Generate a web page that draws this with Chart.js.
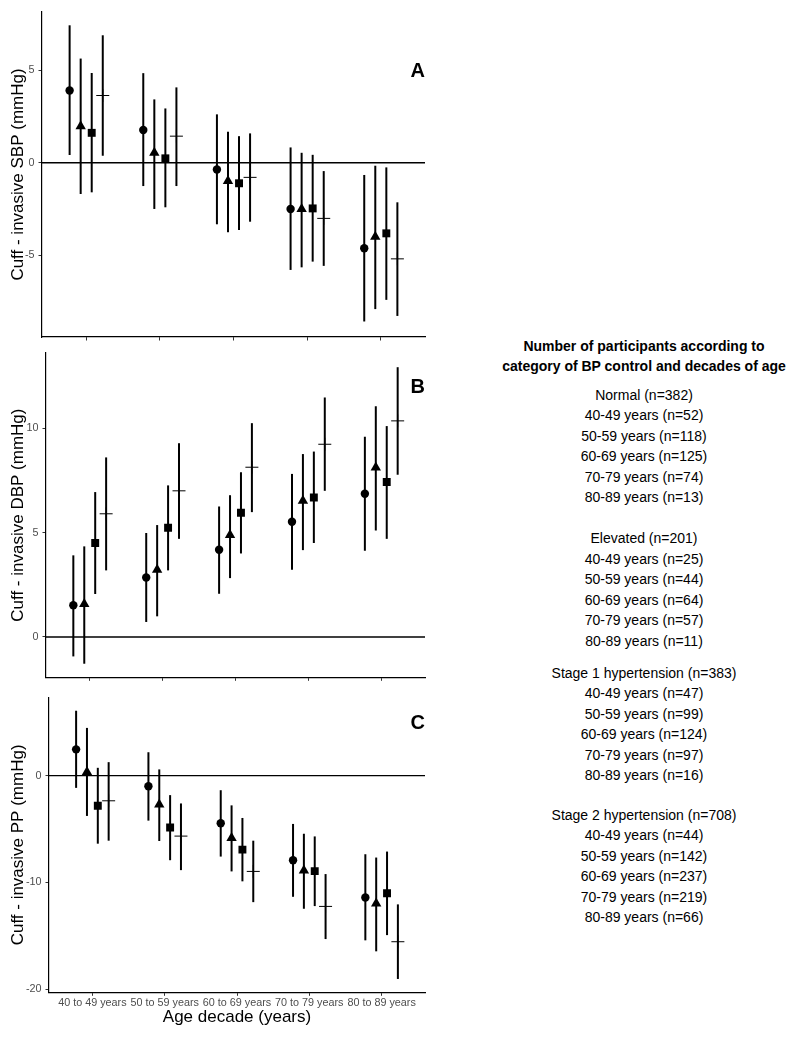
<!DOCTYPE html>
<html>
<head>
<meta charset="utf-8">
<script src="https://cdn.jsdelivr.net/npm/chart.js@4/dist/chart.umd.min.js"></script>
<style>
  body { margin: 0; background: #fff; font-family: 'Liberation Sans', Arial, sans-serif; }
  #page { position: relative; width: 800px; height: 1037px; }
  .panel { position: absolute; left: 0; width: 440px; }
  .counts { position: absolute; left: 488px; width: 312px; text-align: center; font-size: 14px; line-height: 20.5px; color: #000; }
  .counts.title { font-weight: bold; line-height: 20px; }
</style>
</head>
<body>
<div id="page">
  <div class="panel" style="top:0;height:345px"><canvas id="sbpChart"></canvas></div>
  <div class="panel" style="top:345px;height:345px"><canvas id="dbpChart"></canvas></div>
  <div class="panel" style="top:690px;height:347px"><canvas id="ppChart"></canvas></div>
  <div class="counts title" style="top:336px">Number of participants according to<br>category of BP control and decades of age</div>
</div>
<script>
const ageGroups = ['40 to 49 years', '50 to 59 years', '60 to 69 years', '70 to 79 years', '80 to 89 years'];
const ageShort = ['40-49', '50-59', '60-69', '70-79', '80-89'];
const bpCategories = ['Normal', 'Elevated', 'Stage 1 hypertension', 'Stage 2 hypertension'];

// participants per age decade, one array per BP category
const normalN = [52, 118, 125, 74, 13];
const elevatedN = [25, 44, 64, 57, 11];
const stage1N = [47, 99, 124, 97, 16];
const stage2N = [44, 142, 237, 219, 66];

// rows: Normal, Elevated, Stage 1, Stage 2 -- columns: age decades
const sbpMean = [
    [3.91, 1.77, -0.36, -2.50, -4.63],
    [1.98, 0.54, -0.99, -2.50, -4.00],
    [1.62, 0.24, -1.11, -2.47, -3.82],
    [3.64, 1.44, -0.79, -3.01, -5.20]
];
const sbpLow = [
    [0.42, -1.26, -3.33, -5.80, -8.59],
    [-1.69, -2.50, -3.76, -5.66, -7.92],
    [-1.60, -2.41, -3.64, -5.35, -7.42],
    [0.38, -1.26, -3.19, -5.58, -8.29]
];
const sbpHigh = [
    [7.44, 4.85, 2.62, 0.83, -0.66],
    [5.64, 3.43, 1.68, 0.54, -0.16],
    [4.86, 2.94, 1.44, 0.43, -0.25],
    [6.90, 4.08, 1.59, -0.45, -2.14]
];

const dbpMean = [
    [1.52, 2.85, 4.18, 5.52, 6.86],
    [1.58, 3.22, 4.88, 6.52, 8.12],
    [4.50, 5.23, 5.95, 6.68, 7.42],
    [5.90, 7.00, 8.13, 9.23, 10.35]
];
const dbpLow = [
    [-0.93, 0.72, 2.07, 3.22, 4.13],
    [-1.28, 0.99, 2.82, 4.16, 5.10],
    [2.06, 3.19, 4.00, 4.50, 4.70],
    [3.19, 4.70, 5.98, 7.00, 7.77]
];
const dbpHigh = [
    [3.91, 4.98, 6.25, 7.81, 9.59],
    [4.34, 5.36, 6.79, 8.76, 11.05],
    [6.94, 7.26, 7.89, 8.88, 10.10],
    [8.60, 9.28, 10.24, 11.47, 12.92]
];

const ppMean = [
    [2.47, -0.99, -4.45, -7.92, -11.41],
    [0.34, -2.69, -5.85, -8.88, -11.97],
    [-2.81, -4.86, -6.93, -8.94, -11.01],
    [-2.35, -5.66, -8.97, -12.25, -15.56]
];
const ppLow = [
    [-1.14, -4.21, -7.58, -11.35, -15.43],
    [-3.77, -6.12, -8.97, -12.47, -16.46],
    [-6.37, -7.92, -9.90, -12.22, -14.94],
    [-6.09, -8.85, -11.85, -15.31, -19.05]
];
const ppHigh = [
    [6.09, 2.20, -1.36, -4.52, -7.36],
    [4.48, 0.59, -2.78, -5.44, -7.67],
    [0.74, -1.82, -3.96, -5.69, -7.11],
    [1.27, -2.60, -6.09, -9.22, -12.06]
];

const sbpTicks = [-5, 0, 5];
const dbpTicks = [0, 5, 10];
const ppTicks = [-20, -10, 0];

Chart.defaults.font.family = "'Liberation Sans', Arial, sans-serif";
Chart.defaults.animation = false;

const dodge = [-0.225, -0.075, 0.075, 0.225];
const shapes = [
    { style: 'circle', radius: 4.2, border: 0 },
    { style: 'triangle', radius: 6, border: 0 },
    { style: 'rect', radius: 5.6, border: 0 },
    { style: 'cross', radius: 6.5, border: 1 }
];

// vertical interval lines, drawn under the markers
function errorBars(low, high) {
    return {
        id: 'errorBars',
        beforeDatasetsDraw(chart) {
            const { ctx, scales: { x, y } } = chart;
            ctx.save();
            ctx.strokeStyle = '#000';
            ctx.lineWidth = 2;
            low.forEach((row, k) => row.forEach((lo, i) => {
                const px = x.getPixelForValue(i + 1 + dodge[k]);
                ctx.beginPath();
                ctx.moveTo(px, y.getPixelForValue(lo));
                ctx.lineTo(px, y.getPixelForValue(high[k][i]));
                ctx.stroke();
            }));
            ctx.restore();
        }
    };
}

function panelLetter(letter, yVal) {
    return {
        id: 'panelLetter',
        afterDatasetsDraw(chart) {
            const { ctx, scales: { x, y } } = chart;
            ctx.save();
            ctx.font = "bold 20px 'Liberation Sans', Arial, sans-serif";
            ctx.fillStyle = '#000';
            ctx.textAlign = 'center';
            ctx.textBaseline = 'middle';
            ctx.fillText(letter, x.getPixelForValue(5.5), y.getPixelForValue(yVal) + 1.5);
            ctx.restore();
        }
    };
}

function makePanel(id, p) {
    const datasets = bpCategories.map((cat, k) => ({
        label: cat,
        data: ageGroups.map((g, i) => ({ x: i + 1 + dodge[k], y: p.mean[k][i] })),
        pointStyle: shapes[k].style,
        pointRadius: shapes[k].radius,
        borderWidth: shapes[k].border,
        backgroundColor: '#000',
        borderColor: '#000'
    }));
    // reference line at zero
    datasets.unshift({
        label: 'zero',
        data: [{ x: 0.4, y: 0 }, { x: 5.6, y: 0 }],
        showLine: true,
        pointRadius: 0,
        borderColor: '#000',
        borderWidth: 1.3
    });

    return new Chart(document.getElementById(id), {
        type: 'scatter',
        data: { datasets: datasets },
        options: {
            responsive: true, maintainAspectRatio: false, events: [],
            layout: { padding: { top: p.top, right: 15, left: 0, bottom: 0 } },
            plugins: { legend: { display: false }, tooltip: { enabled: false } },
            scales: {
                x: {
                    type: 'linear', min: 0.4, max: 5.6,
                    afterBuildTicks: s => { s.ticks = ageGroups.map((g, i) => ({ value: i + 1 })); },
                    afterFit: s => { s.height = p.xHeight; s.paddingLeft = 0; s.paddingRight = 0; },
                    ticks: {
                        display: p.showX, autoSkip: false, maxRotation: 0, padding: 1,
                        color: '#4d4d4d', font: { size: 10.8 },
                        callback: v => ageGroups[Math.round(v) - 1]
                    },
                    grid: { drawOnChartArea: false, drawTicks: true, tickLength: 3.5, color: '#333' },
                    border: { display: true, color: '#000', width: 1.2 },
                    title: {
                        display: p.showX, text: 'Age decade (years)', color: '#000',
                        font: { size: 17 }, padding: { top: 0, bottom: 9 }
                    }
                },
                y: {
                    min: p.min, max: p.max,
                    afterBuildTicks: s => { s.ticks = p.ticks.map(v => ({ value: v })); },
                    afterFit: s => { s.width = p.left; s.paddingTop = 0; s.paddingBottom = 0; },
                    ticks: { color: '#4d4d4d', font: { size: 10.8 }, padding: 4 },
                    grid: { drawOnChartArea: false, drawTicks: true, tickLength: 3.5, color: '#333' },
                    border: { display: true, color: '#000', width: 1.2 },
                    title: {
                        display: true, text: p.yTitle, color: '#000',
                        font: { size: 17 }, padding: { top: 8.3, bottom: 0 }
                    }
                }
            }
        },
        plugins: [errorBars(p.low, p.high), panelLetter(p.letter, p.letterY)]
    });
}

makePanel('sbpChart', {
    mean: sbpMean, low: sbpLow, high: sbpHigh, ticks: sbpTicks,
    min: -9.43, max: 8.16, top: 12, xHeight: 8, left: 42, showX: false,
    yTitle: 'Cuff - invasive SBP (mmHg)', letter: 'A', letterY: 5
});
makePanel('dbpChart', {
    mean: dbpMean, low: dbpLow, high: dbpHigh, ticks: dbpTicks,
    min: -1.93, max: 13.6, top: 8, xHeight: 12.7, left: 46, showX: false,
    yTitle: 'Cuff - invasive DBP (mmHg)', letter: 'B', letterY: 12
});
makePanel('ppChart', {
    mean: ppMean, low: ppLow, high: ppHigh, ticks: ppTicks,
    min: -20.3, max: 7.33, top: 5, xHeight: 44.7, left: 49, showX: true,
    yTitle: 'Cuff - invasive PP (mmHg)', letter: 'C', letterY: 5
});

// participant counts text block
const countGroups = [normalN, elevatedN, stage1N, stage2N];
const groupTops = [384.75, 528, 662.5, 804.75];
const page = document.getElementById('page');
countGroups.forEach((counts, k) => {
    const total = counts.reduce((a, b) => a + b, 0);
    const box = document.createElement('div');
    box.className = 'counts';
    box.style.top = groupTops[k] + 'px';
    let lines = [`${bpCategories[k]} (n=${total})`];
    counts.forEach((n, i) => lines.push(`${ageShort[i]} years (n=${n})`));
    box.innerHTML = lines.join('<br>');
    page.appendChild(box);
});
</script>
</body>
</html>
